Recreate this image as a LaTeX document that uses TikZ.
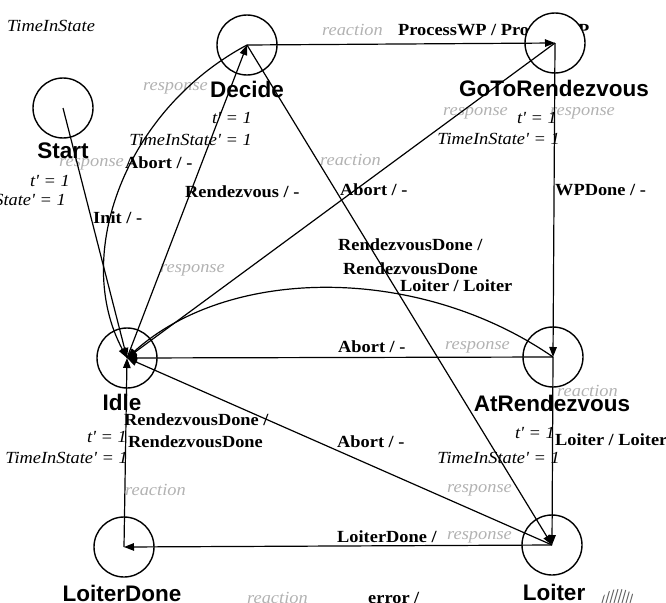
\documentclass[tikz,border=0pt]{standalone}
\usepackage{fontspec}
\setmainfont{Liberation Serif}
\newfontfamily\lblfont[FakeStretch=1.08]{Liberation Serif}
\newfontfamily\namefont{Liberation Sans}
\usetikzlibrary{arrows.meta}

\tikzset{
  trans/.style={font=\lblfont\bfseries\fontsize{17}{17}\selectfont, inner sep=0pt, anchor=west},
  guard/.style={font=\lblfont\itshape\fontsize{17}{17}\selectfont, inner sep=0pt, anchor=east},
  faint/.style={font=\lblfont\itshape\fontsize{17}{17}\selectfont, text=black!30, inner sep=0pt, anchor=west},
  statename/.style={font=\namefont\bfseries\fontsize{22.5}{22.5}\selectfont, inner sep=0pt},
  state/.style={circle, draw, line width=1.4pt, fill=white, minimum size=60pt, inner sep=0pt},
  edge/.style={line width=1.2pt, -{Triangle[length=10pt,width=7.5pt]}}
}

\begin{document}
\begin{tikzpicture}[x=1pt,y=-1pt]
\useasboundingbox (0,0) rectangle (666,602);

% faint response / reaction annotations
\node[faint, anchor=east] (fa) at (208,88) {response};
\node[faint, anchor=east] (fb) at (124,164) {response};
\node[faint] (fc) at (322,30) {reaction};
\node[faint] (fd) at (443,113) {response};
\node[faint] (fe) at (550,113) {response};
\node[faint] (ff) at (320,160) {reaction};
\node[faint] (fg) at (160,270) {response};
\node[faint] (fh) at (445,347) {response};
\node[faint] (fi) at (557,391) {reaction};
\node[faint] (fj) at (125,490) {reaction};
\node[faint] (fk) at (447,490) {response};
\node[faint] (fl) at (447,537) {response};
\node[faint] (fm) at (247,598) {reaction};

% transition labels
\node[trans] (tProc) at (398,30) {ProcessWP / ProcessWP};
\node[trans] (tAbort1) at (125,163) {Abort / -};
\node[trans] (tRdv) at (185,192) {Rendezvous / -};
\node[trans] (tInit) at (93,218) {Init / -};
\node[trans] (tAbort2) at (340,190) {Abort / -};
\node[trans] (tWP) at (555,190) {WPDone / -};
\node[trans] (tRD1a) at (338,245) {RendezvousDone /};
\node[trans] (tRD1b) at (343,269) {RendezvousDone};
\node[trans] (tLoit1) at (400,286) {Loiter / Loiter};
\node[trans] (tAbort3) at (338,347) {Abort / -};
\node[trans] (tRD2a) at (124,420) {RendezvousDone /};
\node[trans] (tRD2b) at (128,442) {RendezvousDone};
\node[trans] (tAbort4) at (337,442) {Abort / -};
\node[trans] (tLoit2) at (555,440) {Loiter / Loiter};
\node[trans] (tLD) at (337,537) {LoiterDone /};
\node[trans, anchor=base west] (tErr) at (368,603) {error /};

% state guards
\node[guard, anchor=west] (gTop) at (7,26) {TimeInState};
\node[guard] (gS1) at (70,181) {t' = 1};
\node[guard] (gS2) at (66,200) {TimeInState' = 1};
\node[guard] (gD1) at (252,118) {t' = 1};
\node[guard] (gD2) at (252,140) {TimeInState' = 1};
\node[guard] (gG1) at (557,118) {t' = 1};
\node[guard] (gG2) at (560,139) {TimeInState' = 1};
\node[guard] (gI1) at (127,437) {t' = 1};
\node[guard] (gI2) at (128,458) {TimeInState' = 1};
\node[guard] (gA1) at (555,433) {t' = 1};
\node[guard] (gA2) at (560,458) {TimeInState' = 1};

% states
\node[state] (start) at (63,108) {};
\node[state] (decide) at (247,45) {};
\node[state] (goto) at (555,43) {};
\node[state] (idle) at (127,358) {};
\node[state] (atr) at (553,357) {};
\node[state] (ldone) at (124,547) {};
\node[state] (loiter) at (552,545) {};

% state names
\node[statename] (nStart) at (63,151) {Start};
\node[statename] (nDecide) at (247,89) {Decide};
\node[statename] (nGoto) at (554,88) {GoToRendezvous};
\node[statename] (nIdle) at (122,402) {Idle};
\node[statename] (nAtr) at (552,403) {AtRendezvous};
\node[statename] (nLdone) at (122,593) {LoiterDone};
\node[statename] (nLoiter) at (554,592) {Loiter};

% transitions
\draw[edge] (start.center) -- (idle.center);
\draw[edge] (idle.center) -- (decide.center);
\draw[edge] (decide.center) .. controls (125,110) and (72,255) .. (idle.center);
\draw[edge] (decide.center) -- (goto.center);
\draw[edge] (goto.center) -- (idle.center);
\draw[edge] (goto.center) -- (atr.center);
\draw[edge] (atr.center) .. controls (420,265) and (230,265) .. (idle.center);
\draw[edge] (atr.center) -- (idle.center);
\draw[edge] (decide.center) -- (loiter.center);
\draw[edge] (atr.center) -- (loiter.center);
\draw[edge] (loiter.center) -- (idle.center);
\draw[edge] (loiter.center) -- (ldone.center);
\draw[edge] (ldone.center) -- (idle.center);

% small hatched mark in the corner
\begin{scope}
  \clip (619,603) ellipse (18 and 14);
  \foreach \i in {0,...,9}
    \draw[black!60, line width=1pt] (598+4*\i,589) -- (594+4*\i,603);
\end{scope}
\end{tikzpicture}
\end{document}
